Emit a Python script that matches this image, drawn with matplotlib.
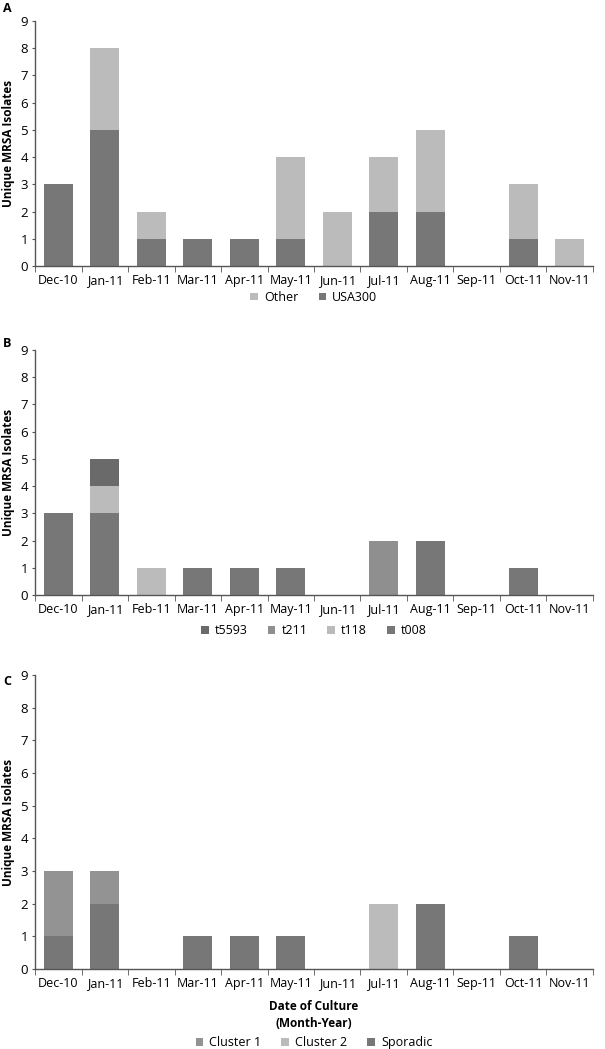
import matplotlib.pyplot as plt
import numpy as np

plt.rcParams['font.family'] = ['Open Sans', 'DejaVu Sans']

months = ['Dec-10', 'Jan-11', 'Feb-11', 'Mar-11', 'Apr-11', 'May-11',
          'Jun-11', 'Jul-11', 'Aug-11', 'Sep-11', 'Oct-11', 'Nov-11']

# panel A
usa300 = [3, 5, 1, 1, 1, 1, 0, 2, 2, 0, 1, 0]
other = [0, 3, 1, 0, 0, 3, 2, 2, 3, 0, 2, 1]

# panel B
t008 = [3, 3, 0, 1, 1, 1, 0, 0, 2, 0, 1, 0]
t118 = [0, 1, 1, 0, 0, 0, 0, 0, 0, 0, 0, 0]
t211 = [0, 0, 0, 0, 0, 0, 0, 2, 0, 0, 0, 0]
t5593 = [0, 1, 0, 0, 0, 0, 0, 0, 0, 0, 0, 0]

# panel C
sporadic = [1, 2, 0, 1, 1, 1, 0, 0, 2, 0, 1, 0]
cluster1 = [2, 1, 0, 0, 0, 0, 0, 0, 0, 0, 0, 0]
cluster2 = [0, 0, 0, 0, 0, 0, 0, 2, 0, 0, 0, 0]

x = np.arange(len(months))
w = 0.62
axis_col = '#555555'
leg_kw = dict(frameon=False, fontsize=9, handlelength=0.6, handleheight=0.6,
              columnspacing=1.6, handletextpad=0.5, borderpad=0.1)


def style(ax):
    ax.set_xlim(-0.5, len(months) - 0.5)
    ax.set_ylim(0, 9)
    ax.set_yticks(range(10))
    ax.set_xticks(x)
    ax.set_xticklabels(months, fontsize=9)
    ax.set_xticks(np.arange(-0.5, len(months), 1), minor=True)
    ax.tick_params(axis='x', which='major', length=0, pad=6)
    ax.tick_params(axis='x', which='minor', length=4, color=axis_col, direction='out')
    ax.tick_params(axis='y', length=2, color=axis_col, labelsize=9.5, pad=3)
    for s in ['top', 'right']:
        ax.spines[s].set_visible(False)
    for s in ['left', 'bottom']:
        ax.spines[s].set_color(axis_col)
        ax.spines[s].set_linewidth(1.0)
    ax.set_ylabel('Unique MRSA Isolates', fontsize=8.5, fontweight='bold', labelpad=4)


fig = plt.figure(figsize=(6.05, 10.49), dpi=100)
axA = fig.add_axes([0.058, 0.7464, 0.922, 0.2336])
axB = fig.add_axes([0.058, 0.4328, 0.922, 0.2335])
axC = fig.add_axes([0.058, 0.0763, 0.922, 0.2802])

# A
hA1 = axA.bar(x, usa300, w, color='#777777', label='USA300')
hA2 = axA.bar(x, other, w, bottom=usa300, color='#bbbbbb', label='Other')
style(axA)
axA.legend([hA2, hA1], ['Other', 'USA300'], loc='center', bbox_to_anchor=(0.5, -0.128),
           ncol=2, **leg_kw)

# B
b1 = np.array(t008)
b2 = b1 + np.array(t118)
b3 = b2 + np.array(t211)
hB1 = axB.bar(x, t008, w, color='#777777')
hB2 = axB.bar(x, t118, w, bottom=b1, color='#bbbbbb')
hB3 = axB.bar(x, t211, w, bottom=b2, color='#8f8f8f')
hB4 = axB.bar(x, t5593, w, bottom=b3, color='#6a6a6a')
style(axB)
axB.legend([hB4, hB3, hB2, hB1], ['t5593', 't211', 't118', 't008'], loc='center',
           bbox_to_anchor=(0.5, -0.147), ncol=4, **leg_kw)

# C
c1 = np.array(sporadic)
c2 = c1 + np.array(cluster1)
hC1 = axC.bar(x, sporadic, w, color='#777777')
hC2 = axC.bar(x, cluster1, w, bottom=c1, color='#939393')
hC3 = axC.bar(x, cluster2, w, bottom=c2, color='#bbbbbb')
style(axC)
axC.set_xlabel('Date of Culture\n(Month-Year)', fontsize=8.5, fontweight='bold', labelpad=7,
               linespacing=1.4)
axC.legend([hC2, hC3, hC1], ['Cluster 1', 'Cluster 2', 'Sporadic'], loc='center',
           bbox_to_anchor=(0.5, -0.25), ncol=3, **leg_kw)

fig.text(0.005, 0.992, 'A', fontsize=9, fontweight='bold', va='center')
fig.text(0.005, 0.673, 'B', fontsize=9, fontweight='bold', va='center')
fig.text(0.005, 0.350, 'C', fontsize=9, fontweight='bold', va='center')

fig.savefig('out.png', dpi=100, facecolor='white')
